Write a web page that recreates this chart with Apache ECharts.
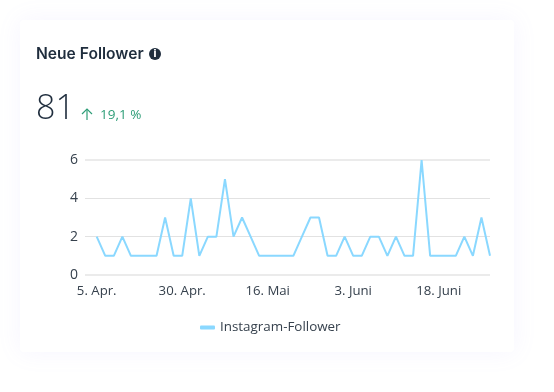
<!DOCTYPE html>
<html>
<head>
<meta charset="utf-8">
<style>
  html, body { margin: 0; padding: 0; background: #fff; }
  #chart { width: 554px; height: 392px; }
</style>
<script src="https://cdn.jsdelivr.net/npm/echarts@6/dist/echarts.min.js"></script>
</head>
<body>
<div id="chart"></div>
<script>
const seriesName = "Instagram-Follower";
const followers = [2, 1, 1, 2, 1, 1, 1, 1, 3, 1, 1, 4, 1, 2, 2, 5, 2, 3, 2, 1, 1, 1, 1, 1, 2, 3, 3, 1, 1, 2, 1, 1, 2, 2, 1, 2, 1, 1, 6, 1, 1, 1, 1, 2, 1, 3, 1];
const tickPositions = [0, 10, 20, 30, 40];
const tickLabels = ["5. Apr.", "30. Apr.", "16. Mai", "3. Juni", "18. Juni"];

const LINE = "#8ad8ff";
const TEXT = "#36414d";
const DARK = "#1f2d3d";
const GREEN = "#2f9e78";
const FONT = '"Open Sans", "Noto Sans", sans-serif';

const chart = echarts.init(document.getElementById("chart"), null, { renderer: "canvas" });

chart.setOption({
    backgroundColor: "#ffffff",
    animation: false,
    grid: { left: 85, right: 64, top: 160, height: 115 },
    xAxis: {
        type: "value",
        // room left of the first point, the gridlines start before the line does
        min: -1.37,
        max: followers.length - 1,
        splitLine: { show: false },
        axisLine: { show: false },
        axisTick: { show: false },
        axisLabel: {
            customValues: tickPositions,
            formatter: (v) => tickLabels[tickPositions.indexOf(v)],
            color: TEXT,
            fontFamily: FONT,
            fontSize: 13.2,
            margin: 10,
            hideOverlap: false,
        },
    },
    yAxis: {
        type: "value",
        min: 0,
        max: 6,
        interval: 2,
        axisLine: { show: false },
        axisTick: { show: false },
        axisLabel: { color: TEXT, fontFamily: FONT, fontSize: 14, margin: 7 },
        splitLine: { lineStyle: { color: "#e2e2e2", width: 1 } },
    },
    legend: {
        data: [{ name: seriesName, icon: "roundRect" }],
        left: 195,
        top: 316,
        itemWidth: 15,
        itemHeight: 4,
        textStyle: { color: TEXT, fontFamily: FONT, fontSize: 13.4 },
    },
    series: [{
        name: seriesName,
        type: "line",
        data: followers.map((v, i) => [i, v]),
        symbol: "none",
        lineStyle: { color: LINE, width: 2 },
        itemStyle: { color: LINE },
        // top and bottom gridlines read heavier in the original
        markLine: {
            silent: true,
            symbol: "none",
            label: { show: false },
            lineStyle: { color: "#ebebeb", width: 2, type: "solid" },
            data: [{ yAxis: 0 }, { yAxis: 6 }],
            z: 1,
        },
    }],
    graphic: [
        {
            type: "rect",
            z: -1,
            shape: { x: 20, y: 20, width: 494, height: 332, r: 4 },
            style: { fill: "#ffffff", shadowBlur: 24, shadowColor: "rgba(150,140,255,0.09)" },
        },
        {
            type: "text", left: 36, top: 46,
            style: { text: "Neue Follower", fill: DARK, font: '600 15.6px Inter, "Noto Sans", sans-serif' },
        },
        { type: "circle", shape: { cx: 155, cy: 54, r: 6 }, style: { fill: DARK } },
        {
            type: "text", x: 155, y: 54,
            style: { text: "i", fill: "#ffffff", font: 'bold 10px "DejaVu Sans", sans-serif', align: "center", verticalAlign: "middle" },
        },
        {
            type: "text", left: 36, top: 92,
            style: { text: "81", fill: DARK, font: '300 34px "Open Sans", sans-serif' },
        },
        {
            type: "polyline",
            shape: { points: [[82, 114], [87, 109], [92, 114]] },
            style: { stroke: GREEN, lineWidth: 1.2, fill: null },
        },
        {
            type: "line",
            shape: { x1: 87, y1: 109, x2: 87, y2: 120 },
            style: { stroke: GREEN, lineWidth: 1.2 },
        },
        {
            type: "text", left: 100, top: 108,
            style: { text: "19,1 %", fill: GREEN, font: '13.5px "Open Sans", sans-serif' },
        },
    ],
});
</script>
</body>
</html>
